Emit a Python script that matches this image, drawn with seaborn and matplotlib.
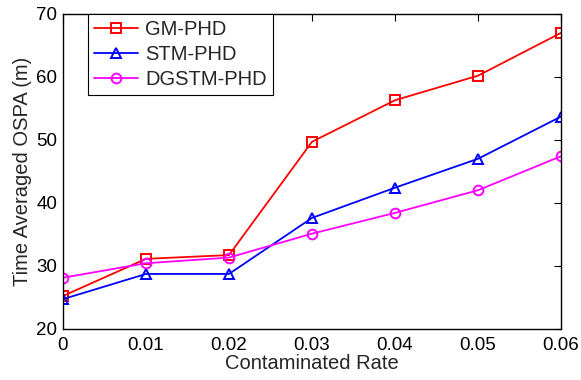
import matplotlib
matplotlib.use("Agg")
import matplotlib.pyplot as plt
import seaborn as sns
import pandas as pd

rates = [0, 0.01, 0.02, 0.03, 0.04, 0.05, 0.06]
gm_phd = [25.2, 31.1, 31.7, 49.7, 56.3, 60.2, 67.0]
stm_phd = [24.7, 28.7, 28.7, 37.6, 42.4, 47.0, 53.7]
dgstm_phd = [28.1, 30.4, 31.3, 35.1, 38.4, 42.0, 47.4]
series_names = ["GM-PHD", "STM-PHD", "DGSTM-PHD"]
x_ticks = [0, 0.01, 0.02, 0.03, 0.04, 0.05, 0.06]
x_tick_labels = ["0", "0.01", "0.02", "0.03", "0.04", "0.05", "0.06"]
y_ticks = [20, 30, 40, 50, 60, 70]

sns.set_theme(style="white")
plt.rcParams["font.family"] = ["Liberation Sans", "DejaVu Sans"]

df = pd.DataFrame({
    "rate": rates * 3,
    "value": gm_phd + stm_phd + dgstm_phd,
    "method": [series_names[0]] * 7 + [series_names[1]] * 7 + [series_names[2]] * 7,
})

fig = plt.figure(figsize=(5.81, 3.80), dpi=100)
ax = fig.add_axes([63 / 581, 1 - 328.7 / 380, (561 - 63) / 581, (328.7 - 14) / 380])

palette = {"GM-PHD": "#ff0000", "STM-PHD": "#0000ff", "DGSTM-PHD": "#ff00ff"}
markers = {"GM-PHD": "s", "STM-PHD": "^", "DGSTM-PHD": "o"}
sns.lineplot(data=df, x="rate", y="value", hue="method", style="method",
             palette=palette, markers=markers, dashes=False, ax=ax,
             linewidth=1.3, markersize=7, markerfacecolor="none",
             markeredgewidth=1.4)
for line in ax.get_lines():
    line.set_markerfacecolor("none")
    line.set_markeredgecolor(line.get_color())

ax.set_xlim(0, 0.06)
ax.set_ylim(20, 70)
ax.set_xticks(x_ticks)
ax.set_xticklabels(x_tick_labels)
ax.set_yticks(y_ticks)
ax.tick_params(direction="in", length=5, width=0.8, labelsize=13.5, top=True, right=True,
               color="black", labelcolor="black")
ax.tick_params(axis="x", pad=6)
ax.tick_params(axis="y", pad=4)
for s in ax.spines.values():
    s.set_visible(True)
    s.set_color("black")
    s.set_linewidth(1.0)
ax.set_xlabel("Contaminated Rate", fontsize=14.5, labelpad=0)
ax.set_ylabel("Time Averaged OSPA (m)", fontsize=14.5, labelpad=3)

leg = ax.legend(loc="upper left", bbox_to_anchor=(25 / 498, 1.0), fontsize=14.5,
                frameon=True, fancybox=False, edgecolor="black", framealpha=1,
                borderpad=0.3, labelspacing=0.3, handlelength=2.2, handletextpad=0.35,
                borderaxespad=0)
leg.get_frame().set_linewidth(0.8)
for h in leg.legend_handles:
    h.set_markerfacecolor("none")

fig.savefig("out.png", dpi=100)
